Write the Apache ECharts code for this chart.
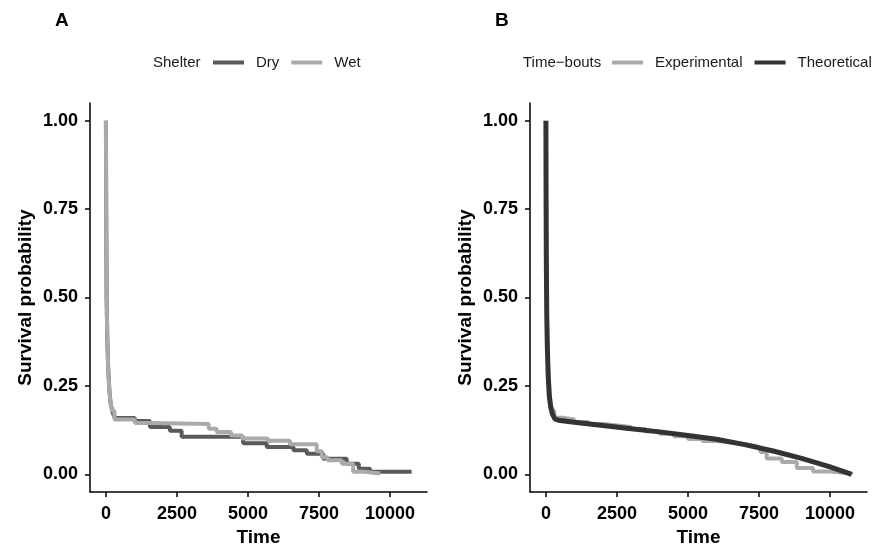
<!DOCTYPE html>
<html>
<head>
<meta charset="utf-8">
<script src="https://cdn.jsdelivr.net/npm/echarts@6/dist/echarts.min.js"></script>
<style>html,body{margin:0;padding:0;background:#fff;}#c{width:877px;height:545px;}</style>
</head>
<body>
<div id="c"></div>
<script>
// ---- data ----
var yTicks = [0, 0.25, 0.5, 0.75, 1];
var xTicks = [0, 2500, 5000, 7500, 10000];

var dryTime  = [0, 10, 25, 50, 80, 120, 165, 220, 260, 330, 1020, 1550, 2250, 2665, 4830, 5660, 6600, 7070, 7650, 8475, 8900, 9300, 10760];
var dryValue = [1.0, 0.75, 0.5, 0.38, 0.3, 0.24, 0.2, 0.18, 0.17, 0.159, 0.151, 0.134, 0.123, 0.106, 0.088, 0.077, 0.068, 0.058, 0.044, 0.030, 0.016, 0.007, 0.007];

var wetTime  = [0, 10, 25, 50, 80, 120, 165, 220, 300, 1020, 1550, 3620, 3900, 4400, 4800, 5700, 6480, 7420, 7600, 7800, 8300, 8700, 9100, 9650];
var wetValue = [1.0, 0.75, 0.5, 0.38, 0.3, 0.24, 0.2, 0.18, 0.155, 0.145, 0.142, 0.129, 0.12, 0.11, 0.101, 0.095, 0.085, 0.065, 0.048, 0.040, 0.030, 0.007, 0.002, 0.002];

var expTime  = [0, 10, 25, 50, 80, 120, 165, 220, 300, 600, 1000, 1500, 2000, 2500, 3000, 3500, 4000, 4500, 5000, 5500, 6000, 6500, 7000, 7400, 7550, 7770, 8300, 8830, 9400, 10000, 10580, 10760];
var expValue = [1.0, 0.75, 0.5, 0.38, 0.3, 0.24, 0.2, 0.18, 0.16, 0.155, 0.148, 0.142, 0.138, 0.134, 0.128, 0.122, 0.115, 0.108, 0.100, 0.094, 0.090, 0.085, 0.080, 0.075, 0.063, 0.045, 0.035, 0.018, 0.008, 0.004, 0.002, 0.0];

var theoTime  = [0, 5, 15, 30, 50, 80, 120, 170, 230, 320, 500, 1000, 2000, 3000, 4000, 5000, 6000, 7000, 8000, 9000, 10000, 10760];
var theoValue = [1.0, 0.8, 0.6, 0.45, 0.36, 0.28, 0.22, 0.19, 0.17, 0.156, 0.152, 0.147, 0.138, 0.129, 0.12, 0.110, 0.099, 0.084, 0.066, 0.045, 0.021, 0.0];

function pairs(t, v) { return t.map(function (x, i) { return [x, v[i]]; }); }

var FONT = 'Liberation Sans, Arial, Helvetica, sans-serif';
var DRY = '#5a5a5a', WET = '#aaaaaa', EXP = '#aaaaaa', THEO = '#333333';

function xAx(gi) {
  return {
    type: 'value', gridIndex: gi, min: -560, max: 11300,
    name: 'Time', nameLocation: 'middle', nameGap: 35,
    nameTextStyle: { fontFamily: FONT, fontWeight: 'bold', fontSize: 19, color: '#000' },
    axisLine: { show: true, onZero: false, lineStyle: { color: '#000', width: 1.5 } },
    axisTick: { show: true, length: 5, customValues: xTicks, lineStyle: { color: '#000', width: 1.5 } },
    axisLabel: { customValues: xTicks, margin: 13, fontFamily: FONT, fontWeight: 'bold', fontSize: 18, color: '#000',
      formatter: function (v) { return String(v); } },
    splitLine: { show: false }
  };
}
function yAx(gi) {
  return {
    type: 'value', gridIndex: gi, min: -0.05, max: 1.05,
    name: 'Survival probability', nameLocation: 'middle', nameGap: 55, nameRotate: 90,
    nameTextStyle: { fontFamily: FONT, fontWeight: 'bold', fontSize: 19, color: '#000' },
    axisLine: { show: true, onZero: false, lineStyle: { color: '#000', width: 1.5 } },
    axisTick: { show: true, length: 5, customValues: yTicks, lineStyle: { color: '#000', width: 1.5 } },
    axisLabel: { customValues: yTicks, margin: 12, fontFamily: FONT, fontWeight: 'bold', fontSize: 18, color: '#000',
      formatter: function (v) { return v.toFixed(2); } },
    splitLine: { show: false }
  };
}
function legendCfg(left, names) {
  return {
    left: left, top: 55, orient: 'horizontal', icon: 'rect', padding: 0,
    itemWidth: 31, itemHeight: 4, itemGap: 12, width: 400,
    data: names,
    textStyle: { fontFamily: FONT, fontSize: 15, color: '#1a1a1a', padding: [0, 0, 0, 7] }
  };
}

var chart = echarts.init(document.getElementById('c'), null, { renderer: 'canvas' });
chart.setOption({
  animation: false,
  backgroundColor: '#fff',
  grid: [
    { left: 90, right: 450, top: 103, bottom: 53, containLabel: false, outerBoundsMode: 'none' },
    { left: 530, right: 10, top: 103, bottom: 53, containLabel: false, outerBoundsMode: 'none' }
  ],
  xAxis: [xAx(0), xAx(1)],
  yAxis: [yAx(0), yAx(1)],
  legend: [legendCfg(213, ['Dry', 'Wet']), legendCfg(612, ['Experimental', 'Theoretical'])],
  graphic: [
    { type: 'text', left: 55, top: 11, style: { text: 'A', font: 'bold 19px ' + FONT, fill: '#000' } },
    { type: 'text', left: 495, top: 11, style: { text: 'B', font: 'bold 19px ' + FONT, fill: '#000' } },
    { type: 'text', left: 153, top: 55, style: { text: 'Shelter', font: '15px ' + FONT, fill: '#1a1a1a' } },
    { type: 'text', left: 523, top: 55, style: { text: 'Time\u2212bouts', font: '15px ' + FONT, fill: '#1a1a1a' } }
  ],
  series: [
    { name: 'Dry', type: 'line', xAxisIndex: 0, yAxisIndex: 0, step: 'end', showSymbol: false, symbol: 'none',
      data: pairs(dryTime, dryValue), color: DRY, lineStyle: { color: DRY, width: 4 }, z: 2 },
    { name: 'Wet', type: 'line', xAxisIndex: 0, yAxisIndex: 0, step: 'end', showSymbol: false, symbol: 'none',
      data: pairs(wetTime, wetValue), color: WET, lineStyle: { color: WET, width: 4 }, z: 3 },
    { name: 'Experimental', type: 'line', xAxisIndex: 1, yAxisIndex: 1, step: 'end', showSymbol: false, symbol: 'none',
      data: pairs(expTime, expValue), color: EXP, lineStyle: { color: EXP, width: 4 }, z: 2 },
    { name: 'Theoretical', type: 'line', xAxisIndex: 1, yAxisIndex: 1, showSymbol: false, symbol: 'none',
      data: pairs(theoTime, theoValue), color: THEO, lineStyle: { color: THEO, width: 5 }, z: 3 }
  ]
});
</script>
</body>
</html>
